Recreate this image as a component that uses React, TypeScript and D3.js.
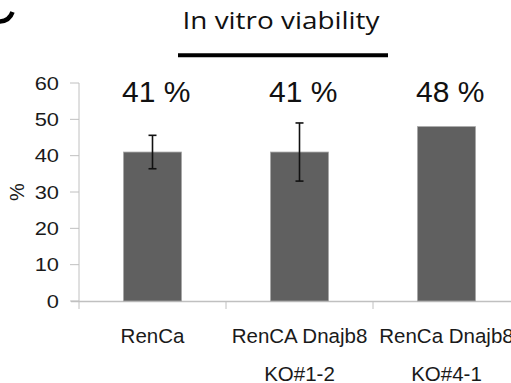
import React from "react";
import * as d3 from "d3";

// Cell lines and measured viability (%)
const categories = ["RenCa", "RenCA Dnajb8\nKO#1-2", "RenCa Dnajb8\nKO#4-1"];
const viability = [41, 41, 48];
const errors = [4.6, 8.0, 0];
const valueLabels = ["41 %", "41 %", "48 %"];
const yTicks = [0, 10, 20, 30, 40, 50, 60];

const W = 511;
const H = 383;

export default function App() {
  const y = d3.scaleLinear().domain([0, 60]).range([301, 83]);
  const x = d3.scaleBand<string>().domain(categories).range([79, 520]).padding(0);
  const barW = x.bandwidth() * 0.395;
  const axisColor = "#c0c0c0";
  const sans = "'Liberation Sans', Arial, sans-serif";

  return (
    <svg
      width={W}
      height={H}
      style={{ position: "absolute", left: 0, top: 0, background: "#fff" }}
    >
      {/* tail of the panel letter at the top-left corner */}
      <path
        d="M -4 21.5 Q 9 22.5 12.5 12"
        fill="none"
        stroke="#000"
        strokeWidth={4.5}
      />

      {/* title with rule beneath */}
      <text
        x={281}
        y={29}
        textAnchor="middle"
        fontFamily="'Open Sans', sans-serif"
        fontSize={23}
        textLength={197}
        lengthAdjust="spacingAndGlyphs"
        fill="#111"
      >
        In vitro viability
      </text>
      <line x1={178} x2={388} y1={55.3} y2={55.3} stroke="#000" strokeWidth={4} />

      {/* y axis */}
      <line x1={79} x2={79} y1={83} y2={309} stroke={axisColor} strokeWidth={1} />
      {yTicks.map((t) => (
        <g key={t}>
          <line x1={70} x2={79} y1={y(t)} y2={y(t)} stroke={axisColor} strokeWidth={1} />
          <g transform={`translate(59,${y(t) + 6.5}) scale(1.15,1)`}>
            <text textAnchor="end" fontFamily={sans} fontSize={19} fill="#1a1a1a">
              {t}
            </text>
          </g>
        </g>
      ))}
      <text
        transform={`translate(${24},${192}) rotate(-90)`}
        textAnchor="middle"
        fontFamily={sans}
        fontSize={20}
        fill="#1a1a1a"
      >
        %
      </text>

      {/* x axis and category separators */}
      <line x1={71} x2={W} y1={301.5} y2={301.5} stroke={axisColor} strokeWidth={1.5} />
      {categories.slice(1).map((c) => (
        <line
          key={c}
          x1={x(c)!}
          x2={x(c)!}
          y1={301}
          y2={309}
          stroke={axisColor}
          strokeWidth={1}
        />
      ))}

      {/* bars, error bars, value labels */}
      {categories.map((c, i) => {
        const cx = x(c)! + x.bandwidth() / 2;
        const v = viability[i];
        const e = errors[i];
        return (
          <g key={c}>
            <rect
              x={cx - barW / 2}
              y={y(v)}
              width={barW}
              height={y(0) - y(v)}
              fill="#606060"
              stroke="#a8a8a8"
              strokeWidth={0.8}
            />
            {e > 0 && (
              <g stroke="#111" strokeWidth={1.6}>
                <line x1={cx} x2={cx} y1={y(v + e)} y2={y(v - e)} />
                <line x1={cx - 4} x2={cx + 4} y1={y(v + e)} y2={y(v + e)} />
                <line x1={cx - 4} x2={cx + 4} y1={y(v - e)} y2={y(v - e)} />
              </g>
            )}
            <text
              x={cx - 30.5}
              y={102}
              fontFamily={sans}
              fontSize={30}
              fill="#111"
            >
              {valueLabels[i]}
            </text>
            {c.split("\n").map((line, k) => (
              <text
                key={k}
                x={cx}
                y={343 + k * 37.5}
                textAnchor="middle"
                fontFamily={sans}
                fontSize={20.5}
                fill="#1a1a1a"
              >
                {line}
              </text>
            ))}
          </g>
        );
      })}
    </svg>
  );
}
